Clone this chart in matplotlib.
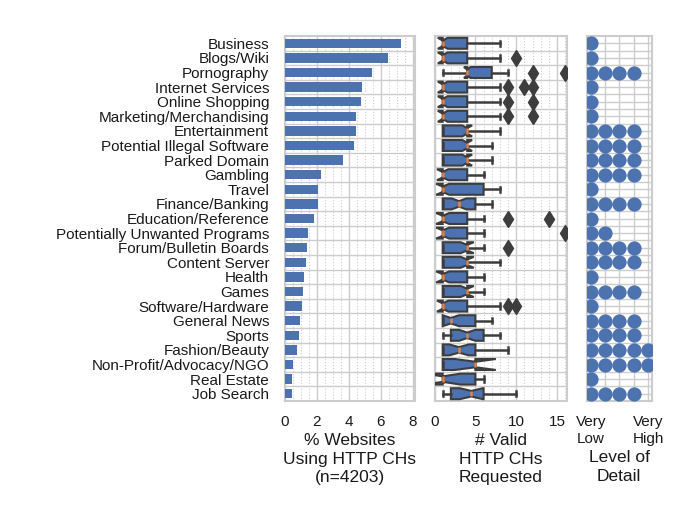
import matplotlib
matplotlib.use("Agg")
import matplotlib.pyplot as plt
import numpy as np

plt.rcParams['font.family'] = ['Liberation Sans', 'DejaVu Sans']

categories = ["Business", "Blogs/Wiki", "Pornography", "Internet Services", "Online Shopping",
              "Marketing/Merchandising", "Entertainment", "Potential Illegal Software",
              "Parked Domain", "Gambling", "Travel", "Finance/Banking", "Education/Reference",
              "Potentially Unwanted Programs", "Forum/Bulletin Boards", "Content Server",
              "Health", "Games", "Software/Hardware", "General News", "Sports",
              "Fashion/Beauty", "Non-Profit/Advocacy/NGO", "Real Estate", "Job Search"]

# % of websites using HTTP CHs
pct_sites = [7.23, 6.46, 5.46, 4.82, 4.74, 4.47, 4.43, 4.30, 3.66, 2.30, 2.09, 2.07, 1.84,
             1.47, 1.41, 1.33, 1.20, 1.16, 1.09, 0.99, 0.89, 0.76, 0.53, 0.49, 0.45]

# box stats for number of valid CHs requested
q1 = [1, 1, 4, 1, 1, 1, 1, 1, 1, 1, 1, 1, 1, 1, 1, 1, 1, 1, 1, 1, 2, 1, 1, 1, 2]
med = [1, 1, 4, 1, 1, 1, 4, 4, 4, 1, 1, 3, 1, 1, 4, 4, 1, 4, 1, 2, 4, 3, 5, 1, 4.5]
q3 = [4, 4, 7, 4, 4, 4, 4, 4, 4, 4, 6, 5, 4, 4, 4, 4, 4, 4, 4, 5, 6, 5, 5, 5, 6]
whis_lo = [1] * 25
whis_hi = [8, 8, 9, 8, 8, 8, 8, 7, 7, 6, 8, 7, 6, 6, 6, 8, 6, 6, 8, 7, 8, 9, 5, 6, 10]
notch_half = [0.6, 0.6, 0.4, 0.6, 0.6, 0.6, 0.6, 0.6, 0.6, 0.7, 0.8, 0.9, 0.8,
              0.8, 0.8, 0.8, 0.8, 0.8, 0.7, 1.0, 1.0, 1.2, 2.5, 2.2, 1.4]
outliers = [[], [10], [12, 16], [9, 11, 12], [9, 12], [9, 12], [], [], [], [], [], [],
            [9, 14], [16], [9], [], [], [], [9, 10], [], [], [], [], [], []]

# level of detail (number of dots, 1 = very low ... 5 = very high)
detail = [1, 1, 4, 1, 1, 1, 4, 4, 4, 4, 1, 4, 1, 2, 4, 4, 1, 4, 1, 4, 4, 5, 5, 1, 4]

blue = "#4c72b0"
dark = "#3d3d3d"
orange = "#dd8452"
grey = "#cccccc"
txt = "#1a1a1a"

fig = plt.figure(figsize=(6.98, 5.19), dpi=100)
W, H = 698, 519
top, bot = 36, 401


def make_ax(x0, x1):
    ax = fig.add_axes([x0 / W, 1 - bot / H, (x1 - x0) / W, (bot - top) / H])
    for s in ax.spines.values():
        s.set_color(grey)
        s.set_linewidth(1.5)
    ax.set_axisbelow(True)
    ax.tick_params(which="both", length=0, labelsize=11, colors=txt)
    ax.tick_params(axis="x", pad=10)
    ax.tick_params(axis="y", pad=11)
    ax.set_ylim(len(categories) - 0.5, -0.5)
    ax.set_yticks(np.arange(len(categories)) + 0.5, minor=True)
    ax.grid(True, which="minor", axis="y", color=grey, lw=1.0, ls="-")
    return ax


ypos = np.arange(len(categories))
label_kw = dict(fontsize=12.5, color=txt, linespacing=1.3, labelpad=3)

# panel 1: bars
ax1 = make_ax(284.5, 414.5)
ax1.barh(ypos, pct_sites, height=0.65, color=blue, zorder=3)
ax1.set_xlim(0, 8.1)
ax1.set_xticks([0, 2, 4, 6, 8])
ax1.set_xticks(np.arange(0.5, 8.1, 0.5), minor=True)
ax1.set_yticks(ypos)
ax1.set_yticklabels(categories, fontsize=11)
ax1.grid(True, which="major", axis="x", color=grey, lw=1.0)
ax1.grid(True, which="minor", axis="x", color=grey, lw=0.8, ls=":")
ax1.set_xlabel("% Websites\nUsing HTTP CHs\n(n=4203)", **label_kw)

# panel 2: notched boxplots
ax2 = make_ax(434.5, 567)
stats = []
for i in range(len(categories)):
    stats.append(dict(med=med[i], q1=q1[i], q3=q3[i], whislo=whis_lo[i], whishi=whis_hi[i],
                      cilo=med[i] - notch_half[i], cihi=med[i] + notch_half[i],
                      fliers=outliers[i]))
ax2.bxp(stats, positions=ypos, widths=0.75, vert=False, shownotches=True, patch_artist=True,
        boxprops=dict(facecolor=blue, edgecolor=dark, linewidth=1.5),
        whiskerprops=dict(color=dark, linewidth=1.8),
        capprops=dict(color=dark, linewidth=1.8),
        medianprops=dict(color=orange, linewidth=1.8),
        flierprops=dict(marker="d", markerfacecolor=dark, markeredgecolor=dark, markersize=8.5),
        manage_ticks=False, zorder=3)
ax2.set_xlim(0, 16.2)
ax2.set_xticks([0, 5, 10, 15])
ax2.set_xticks(np.arange(1, 17), minor=True)
ax2.set_yticks(ypos)
ax2.set_yticklabels([])
ax2.grid(True, which="major", axis="x", color=grey, lw=1.0)
ax2.grid(True, which="minor", axis="x", color=grey, lw=0.8, ls=":")
ax2.set_xlabel("# Valid\nHTTP CHs\nRequested", **label_kw)

# panel 3: level of detail dots
ax3 = make_ax(586.5, 652)
for i, lvl in enumerate(detail):
    ax3.scatter(np.arange(lvl), [i] * lvl, s=105, color=blue, zorder=3, clip_on=True,
                linewidths=0)
ax3.set_xlim(-0.3, 4.27)
ax3.set_xticks([0, 1, 2, 3, 4])
ax3.set_xticklabels(["Very\nLow", "", "", "", "Very\nHigh"], linespacing=1.3)
ax3.set_yticks(ypos)
ax3.set_yticklabels([])
ax3.grid(True, which="major", color=grey, lw=1.0)
ax3.set_xlabel("Level of\nDetail", **label_kw)

fig.savefig("out.png", dpi=100)
